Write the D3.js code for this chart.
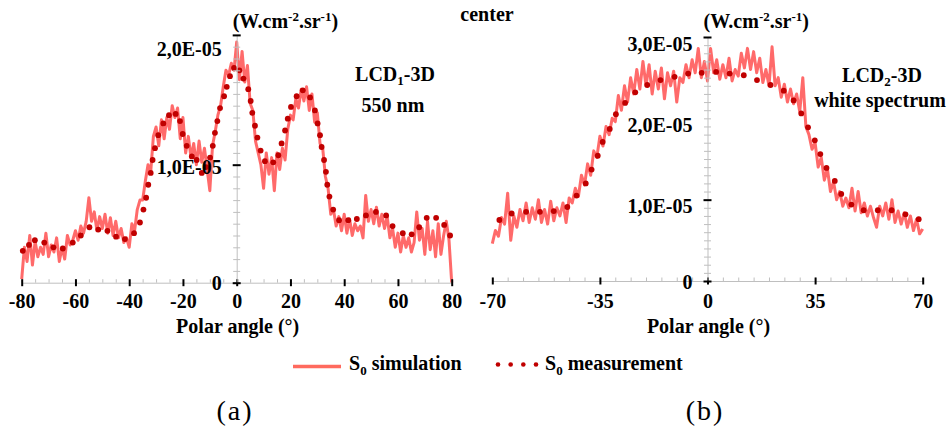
<!DOCTYPE html>
<html>
<head>
<meta charset="utf-8">
<script src="https://cdn.jsdelivr.net/npm/d3@7"></script>
<style>
  body { margin: 0; background: #fff; }
  text { font-family: "Liberation Serif", "Times New Roman", serif; font-weight: bold; font-size: 20px; fill: #000; }
  .caption { font-weight: normal; font-size: 28px; letter-spacing: 2px; }
</style>
</head>
<body>
<div id="chart"></div>
<script>
// values are in units of 1E-05 W.cm-2.sr-1, angles in degrees

// (a) LCD1-3D, 550 nm
var simAnglesA = d3.range(-80, 81); // 1 degree sampling of the simulation
var simValuesA = [
  0.03, 0.30, 0.18, 0.40, 0.15, 0.35, 0.22, 0.30, 0.24, 0.42,
  0.22, 0.32, 0.26, 0.38, 0.18, 0.30, 0.20, 0.40, 0.32, 0.36,
  0.44, 0.36, 0.48, 0.42, 0.52, 0.72, 0.52, 0.60, 0.44, 0.56,
  0.46, 0.58, 0.42, 0.55, 0.40, 0.52, 0.38, 0.46, 0.34, 0.38,
  0.30, 0.50, 0.44, 0.62, 0.70, 0.70, 0.86, 1.00, 0.94, 1.24,
  1.32, 1.16, 1.38, 1.22, 1.40, 1.30, 1.50, 1.40, 1.48, 1.22,
  1.40, 1.10, 1.24, 1.06, 1.18, 1.00, 1.20, 1.02, 1.14, 0.96,
  0.78, 1.16, 1.28, 1.42, 1.50, 1.66, 1.80, 1.76, 1.86, 1.80,
  2.04, 1.72, 1.96, 1.70, 1.84, 1.52, 1.46, 1.20, 1.10, 1.00,
  0.80, 1.10, 0.92, 1.06, 0.78, 1.10, 0.96, 1.14, 1.04, 1.30,
  1.42, 1.38, 1.56, 1.48, 1.64, 1.54, 1.66, 1.46, 1.60, 1.36,
  1.44, 1.18, 1.14, 0.90, 0.80, 0.58, 0.62, 0.48, 0.56, 0.44,
  0.58, 0.42, 0.54, 0.40, 0.50, 0.44, 0.48, 0.38, 0.74, 0.52,
  0.62, 0.50, 0.64, 0.48, 0.58, 0.46, 0.56, 0.38, 0.46, 0.30,
  0.42, 0.26, 0.40, 0.30, 0.38, 0.26, 0.34, 0.60, 0.36, 0.46,
  0.24, 0.52, 0.28, 0.44, 0.22, 0.50, 0.24, 0.40, 0.52, 0.36,
  0.00
];
var measAnglesA = [
  -79.6, -77.3, -75.1, -71.6, -68.2, -64.7, -61.0, -58.0, -54.8, -51.5,
  -48.1, -44.9, -41.6, -38.2, -36.0, -34.7, -33.7, -32.9, -32.0, -31.3,
  -30.4, -29.2, -27.3, -25.2, -22.7, -21.1, -20.1, -18.6, -16.7, -14.9,
  -13.0, -11.4, -9.9, -8.9, -8.1, -7.2, -6.2, -4.7, -3.7, -2.5,
  -1.0, 1.0, 2.5, 4.3, 5.2, 5.8, 6.8, 7.7, 8.9, 10.5,
  13.6, 15.5, 16.7, 18.0, 19.0, 20.2, 22.3, 24.6, 27.3, 29.1,
  30.1, 31.0, 31.6, 32.5, 33.2, 33.7, 34.5, 35.9, 38.1, 41.5,
  44.7, 48.1, 51.8, 55.6, 58.0, 61.8, 65.1, 67.9, 70.7, 74.2,
  77.2, 79.4
];
var measValuesA = [
  0.27, 0.32, 0.36, 0.34, 0.30, 0.29, 0.34, 0.40, 0.47, 0.45,
  0.44, 0.39, 0.37, 0.42, 0.51, 0.62, 0.72, 0.83, 0.93, 1.04,
  1.14, 1.25, 1.35, 1.42, 1.43, 1.37, 1.26, 1.16, 1.07, 1.04,
  0.93, 0.98, 1.06, 1.16, 1.27, 1.37, 1.48, 1.58, 1.66, 1.75,
  1.82, 1.80, 1.73, 1.64, 1.54, 1.44, 1.33, 1.23, 1.12, 1.03,
  1.02, 1.08, 1.18, 1.29, 1.39, 1.49, 1.58, 1.63, 1.57, 1.46,
  1.35, 1.25, 1.15, 1.04, 0.94, 0.83, 0.73, 0.62, 0.53, 0.53,
  0.54, 0.57, 0.60, 0.57, 0.48, 0.42, 0.41, 0.47, 0.55, 0.55,
  0.49, 0.40
];

// (b) LCD2-3D, white spectrum
var simAnglesB = d3.range(-70, 71);
var simValuesB = [
  0.46, 0.62, 0.55, 0.78, 0.70, 1.08, 0.50, 0.80, 0.66, 0.88,
  0.74, 0.96, 0.72, 0.90, 0.76, 1.00, 0.72, 0.88, 0.70, 0.98,
  0.74, 0.90, 0.80, 0.96, 0.72, 1.02, 0.96, 1.14, 1.04, 1.30,
  1.18, 1.44, 1.30, 1.60, 1.52, 1.78, 1.66, 1.90, 1.80, 2.00,
  1.96, 2.28, 2.10, 2.40, 2.20, 2.50, 2.30, 2.60, 2.36, 2.70,
  2.40, 2.66, 2.30, 2.58, 2.36, 2.62, 2.24, 2.56, 2.40, 2.58,
  2.20, 2.50, 2.44, 2.66, 2.50, 2.72, 2.56, 2.86, 2.50, 2.70,
  2.46, 2.86, 2.56, 2.72, 2.48, 2.66, 2.50, 2.74, 2.46, 2.60,
  2.52, 2.80, 2.62, 2.86, 2.60, 2.82, 2.56, 2.74, 2.44, 2.60,
  2.40, 2.88, 2.40, 2.50, 2.26, 2.42, 2.20, 2.36, 2.18, 2.30,
  2.08, 2.50, 1.90, 1.80, 1.62, 1.70, 1.40, 1.52, 1.24, 1.38,
  1.10, 1.22, 1.00, 1.10, 0.92, 1.02, 0.90, 1.14, 0.86, 1.10,
  0.84, 0.96, 0.80, 0.92, 0.78, 0.66, 0.92, 0.80, 0.96, 0.76,
  1.00, 0.72, 0.86, 0.70, 0.84, 0.66, 0.80, 0.62, 0.76, 0.58,
  0.64
];
var measAnglesB = [
  -67.7, -63.7, -59.0, -54.5, -50.0, -45.6, -42.6, -39.6, -37.7, -35.7,
  -34.1, -31.8, -29.8, -26.8, -23.5, -19.6, -15.3, -10.7, -6.3, -1.9,
  2.8, 7.2, 11.8, 16.1, 20.5, 24.8, 28.0, 30.5, 32.7, 34.9,
  36.7, 38.7, 41.4, 43.5, 46.8, 50.8, 55.4, 59.9, 64.4, 68.7
];
var measValuesB = [
  0.75, 0.83, 0.85, 0.85, 0.86, 0.91, 1.05, 1.20, 1.37, 1.54,
  1.71, 1.87, 2.05, 2.19, 2.32, 2.41, 2.47, 2.51, 2.55, 2.56,
  2.57, 2.55, 2.53, 2.47, 2.41, 2.34, 2.22, 2.06, 1.89, 1.73,
  1.56, 1.39, 1.23, 1.07, 0.94, 0.87, 0.87, 0.87, 0.82, 0.76
];

// tick values
var majorXA = [-80, -60, -40, -20, 0, 20, 40, 60, 80];
var majorXB = [-70, -35, 0, 35, 70];
var labelYA = [0, 1, 2];
var labelYB = [0, 1, 2, 3];

var svgWidth = 952;
var svgHeight = 435;

var simColor = "#ff5a5a";
var measColor = "#c00000";
var axisGrey = "#bfbfbf";

var svg = d3.select("#chart")
  .append("svg")
  .attr("width", svgWidth)
  .attr("height", svgHeight);

// scales for both panels
var xA = d3.scaleLinear().domain([-80, 80]).range([21.7, 451.7]);
var yA = d3.scaleLinear().domain([0, 2.1]).range([282.7, 34.9]);
var xB = d3.scaleLinear().domain([-70, 70]).range([492.3, 922.7]);
var yB = d3.scaleLinear().domain([0, 3]).range([281, 37]);

function fmtY(d) {
  if (d === 0) return "0";
  return d3.format(".1f")(d).replace(".", ",") + "E-05";
}

// draws one panel: series first, axes on top (like the original)
function drawPanel(x, y, simAngles, simValues, measAngles, measValues, majorX, labelY, yEnd, labelShift) {
  var g = svg.append("g");

  var line = d3.line()
    .x(function(d, i) { return x(simAngles[i]); })
    .y(function(d) { return y(d); });

  g.append("path")
    .datum(simValues)
    .attr("d", line)
    .attr("fill", "none")
    .attr("stroke", simColor)
    .attr("stroke-width", 3)
    .attr("stroke-linejoin", "round")
    .attr("opacity", 0.9);

  g.selectAll(".meas")
    .data(measValues)
    .enter()
    .append("circle")
    .attr("class", "meas")
    .attr("cx", function(d, i) { return x(measAngles[i]); })
    .attr("cy", function(d) { return y(d); })
    .attr("r", 2.9)
    .attr("fill", measColor);

  var x0 = x(0);
  var y0 = y(0);
  var dom = x.domain();

  // minor x ticks every 5 degrees, grey
  var minorX = d3.range(dom[0], dom[1] + 1, 5);
  var xMinor = g.append("g")
    .attr("transform", `translate(0, ${y0})`)
    .call(d3.axisTop(x).tickValues(minorX).tickSize(3.5).tickSizeOuter(0).tickFormat(""));
  xMinor.selectAll("path, line").attr("stroke", axisGrey);

  // major x ticks, black, crossing the axis
  var xMajor = g.append("g")
    .attr("transform", `translate(0, ${y0})`)
    .call(d3.axisBottom(x).tickValues(majorX).tickSize(3.5).tickFormat(function(d) { return d; }));
  xMajor.select(".domain").remove();
  xMajor.selectAll("line")
    .attr("y1", -3.5)
    .attr("y2", 3.5)
    .attr("stroke", "#000")
    .attr("stroke-width", 2);
  xMajor.selectAll("text")
    .attr("y", 308 - y0)
    .attr("dy", 0);
  xMajor.attr("font-family", null).attr("font-size", null);

  // minor y ticks every 1E-06, grey
  var minorY = d3.range(0, yEnd + 0.001, 0.1);
  var yMinor = g.append("g")
    .attr("transform", `translate(${x0}, 0)`)
    .call(d3.axisLeft(y).tickValues(minorY).tickSize(3.5).tickSizeOuter(0).tickFormat(""));
  yMinor.selectAll("path, line").attr("stroke", axisGrey);
  yMinor.selectAll("line").attr("x1", 3.5);

  // major y ticks, black
  var yMajor = g.append("g")
    .attr("transform", `translate(${x0}, 0)`)
    .call(d3.axisLeft(y).tickValues([0, 1, yEnd]).tickSize(4).tickFormat(""));
  yMajor.select(".domain").remove();
  yMajor.selectAll("line")
    .attr("x1", 4)
    .attr("stroke", "#000")
    .attr("stroke-width", 2);

  // y labels
  var yLabels = g.append("g")
    .attr("transform", `translate(${x0}, 0)`)
    .call(d3.axisLeft(y).tickValues(labelY).tickSize(0).tickPadding(15).tickFormat(fmtY));
  yLabels.select(".domain").remove();
  yLabels.attr("font-family", null).attr("font-size", null);
  yLabels.selectAll("text")
    .attr("dy", "0.35em")
    .attr("y", function(d) { return d === 0 ? 0 : labelShift; });

  // axis title
  g.append("text")
    .attr("x", x0 + 1)
    .attr("y", 333)
    .attr("text-anchor", "middle")
    .text("Polar angle (°)");

  // unit label above the y axis
  var unit = g.append("text")
    .attr("x", x0 - 4)
    .attr("y", 28);
  unit.append("tspan").text("(W.cm");
  unit.append("tspan").attr("dy", -7).attr("font-size", 13).text("-2");
  unit.append("tspan").attr("dy", 7).text(".sr");
  unit.append("tspan").attr("dy", -7).attr("font-size", 13).text("-1");
  unit.append("tspan").attr("dy", 7).text(")");
}

drawPanel(xA, yA, simAnglesA, simValuesA, measAnglesA, measValuesA, majorXA, labelYA, 2.1, 2);
drawPanel(xB, yB, simAnglesB, simValuesB, measAnglesB, measValuesB, majorXB, labelYB, 3, 6);

// panel annotations
function subLabel(cx, cy, pre, sub, post) {
  var t = svg.append("text")
    .attr("x", cx)
    .attr("y", cy)
    .attr("text-anchor", "middle");
  t.append("tspan").text(pre);
  t.append("tspan").attr("dy", 4).attr("font-size", 13).text(sub);
  t.append("tspan").attr("dy", -4).text(post);
}

subLabel(395, 81, "LCD", "1", "-3D");
svg.append("text").attr("x", 393).attr("y", 111.5).attr("text-anchor", "middle").text("550 nm");
subLabel(882, 82, "LCD", "2", "-3D");
svg.append("text").attr("x", 880).attr("y", 107).attr("text-anchor", "middle").text("white spectrum");

svg.append("text")
  .attr("x", 487)
  .attr("y", 21)
  .attr("text-anchor", "middle")
  .text("center");

// legend
var legend = svg.append("g");
legend.append("line")
  .attr("x1", 293).attr("x2", 341)
  .attr("y1", 366.5).attr("y2", 366.5)
  .attr("stroke", "#ff6a5e")
  .attr("stroke-width", 3.5);
var simLab = legend.append("text").attr("x", 349).attr("y", 370);
simLab.append("tspan").text("S");
simLab.append("tspan").attr("dy", 5).attr("font-size", 13).text("0");
simLab.append("tspan").attr("dy", -5).text(" simulation");

legend.selectAll(".ldot")
  .data([498, 510.7, 523.3, 536])
  .enter()
  .append("circle")
  .attr("class", "ldot")
  .attr("cx", function(d) { return d; })
  .attr("cy", 364.5)
  .attr("r", 2.3)
  .attr("fill", measColor);
var measLab = legend.append("text").attr("x", 545).attr("y", 370);
measLab.append("tspan").text("S");
measLab.append("tspan").attr("dy", 5).attr("font-size", 13).text("0");
measLab.append("tspan").attr("dy", -5).text(" measurement");

// sub-figure captions
svg.append("text").attr("class", "caption").attr("x", 235).attr("y", 420).attr("text-anchor", "middle").text("(a)");
svg.append("text").attr("class", "caption").attr("x", 705).attr("y", 420).attr("text-anchor", "middle").text("(b)");
</script>
</body>
</html>
